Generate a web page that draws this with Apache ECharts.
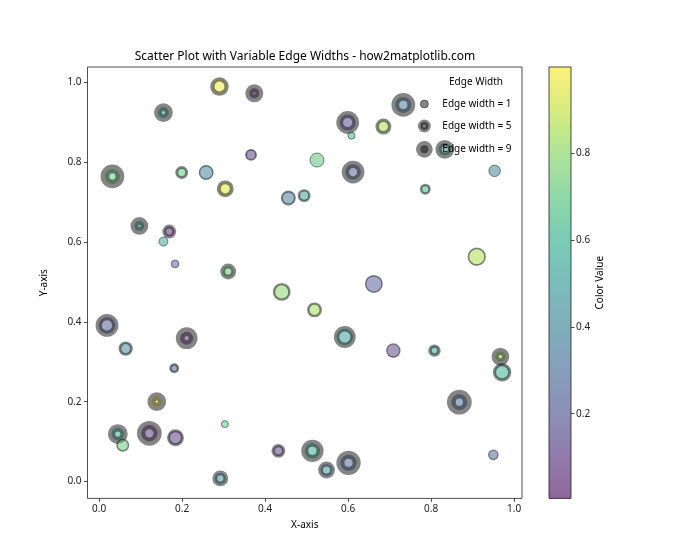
<!DOCTYPE html>
<html>
<head>
<meta charset="utf-8">
<script src="https://cdn.jsdelivr.net/npm/echarts@6/dist/echarts.min.js"></script>
<style>
  html, body { margin: 0; padding: 0; background: #fff; }
  #chart { width: 700px; height: 560px; }
</style>
</head>
<body>
<div id="chart"></div>
<script>
// point data
var xs = [0.290, 0.374, 0.155, 0.366, 0.032, 0.199, 0.258, 0.304, 0.456, 0.494,
  0.097, 0.169, 0.155, 0.183, 0.311, 0.733, 0.599, 0.608, 0.685, 0.833,
  0.525, 0.612, 0.953, 0.786, 0.910, 0.440, 0.019, 0.064, 0.211, 0.181,
  0.139, 0.045, 0.057, 0.121, 0.184, 0.303, 0.292, 0.432, 0.662, 0.519,
  0.592, 0.709, 0.808, 0.967, 0.971, 0.868, 0.514, 0.548, 0.601, 0.950]
var ys = [0.989, 0.972, 0.924, 0.818, 0.764, 0.774, 0.774, 0.733, 0.710, 0.716,
  0.640, 0.626, 0.601, 0.545, 0.526, 0.943, 0.899, 0.866, 0.889, 0.832,
  0.805, 0.775, 0.778, 0.732, 0.563, 0.475, 0.391, 0.333, 0.359, 0.284,
  0.200, 0.119, 0.091, 0.121, 0.110, 0.144, 0.008, 0.077, 0.495, 0.430,
  0.362, 0.328, 0.328, 0.313, 0.274, 0.199, 0.077, 0.029, 0.047, 0.067]
var colorVals = [0.97, 0.05, 0.55, 0.10, 0.72, 0.72, 0.38, 0.95, 0.36, 0.52,
  0.52, 0.05, 0.57, 0.25, 0.72, 0.35, 0.17, 0.62, 0.86, 0.45,
  0.70, 0.25, 0.38, 0.65, 0.86, 0.80, 0.22, 0.40, 0.08, 0.25,
  0.98, 0.58, 0.72, 0.10, 0.10, 0.70, 0.45, 0.12, 0.23, 0.84,
  0.50, 0.13, 0.55, 0.82, 0.58, 0.28, 0.58, 0.45, 0.25, 0.25]
// marker area (pt^2) and edge width (pt)
var sizes = [216, 106, 128, 106, 238, 106, 193, 179, 179, 117,
  106, 106, 86, 63, 128, 271, 271, 52, 165, 165,
  207, 254, 140, 76, 295, 254, 288, 145, 179, 60,
  117, 165, 140, 288, 207, 52, 128, 117, 288, 165,
  288, 187, 86, 117, 248, 271, 248, 152, 281, 92]
var edgeWidths = [4.4, 8.2, 8, 2, 9, 3, 1.5, 4, 2, 2.5,
  8, 4, 1, 1, 5, 8, 7, 1, 3.5, 6.5,
  1, 7.5, 1, 2.5, 1.7, 2.5, 6.5, 2.7, 9, 2.5,
  8.5, 7.5, 1.5, 8.5, 3, 1, 5, 3.5, 1.5, 2.5,
  5.5, 1.3, 3.5, 7.5, 3.3, 9, 7.3, 5, 8.3, 1.3]
var legendWidths = [1, 5, 9]
var xTicks = [0, 0.2, 0.4, 0.6, 0.8, 1.0]
var yTicks = [0, 0.2, 0.4, 0.6, 0.8, 1.0]
var cbarTicks = [0.2, 0.4, 0.6, 0.8]

var PT = 0.972 // px per point
var viridis = ['#440154', '#482475', '#414487', '#355f8d', '#2a788e', '#21918c',
  '#22a884', '#44bf70', '#7ad151', '#bddf26', '#fde725']

function withAlpha(hex, a) {
  var r = parseInt(hex.slice(1, 3), 16)
  var g = parseInt(hex.slice(3, 5), 16)
  var b = parseInt(hex.slice(5, 7), 16)
  return 'rgba(' + r + ',' + g + ',' + b + ',' + a + ')'
}
var cmap = viridis.map(function (c) { return withAlpha(c, 0.6) })
var edgeColor = 'rgba(0,0,0,0.6)'
var FONT = 'Noto Sans'

var points = xs.map(function (x, i) {
  return {
    value: [x, ys[i], colorVals[i]],
    symbolSize: Math.sqrt(sizes[i]) * PT,
    itemStyle: { borderWidth: edgeWidths[i] * PT }
  }
})

var legendSeries = legendWidths.map(function (w) {
  return {
    name: 'Edge width = ' + w,
    type: 'scatter',
    data: [],
    itemStyle: { color: edgeColor, borderColor: edgeColor, borderWidth: w * PT }
  }
})

var tickStyle = { show: true, length: 3.5, lineStyle: { color: '#222', width: 0.8 } }

var chart = echarts.init(document.getElementById('chart'))
chart.setOption({
  animation: false,
  textStyle: { fontFamily: FONT },
  title: [
    {
      text: 'Scatter Plot with Variable Edge Widths - how2matplotlib.com',
      left: 305, top: 51, padding: 0, textAlign: 'center',
      textStyle: { fontSize: 12, fontWeight: 'normal', color: '#000', fontFamily: FONT }
    },
    {
      text: 'Edge Width',
      left: 476, top: 77, padding: 0, textAlign: 'center',
      textStyle: { fontSize: 10, fontWeight: 'normal', color: '#000', fontFamily: FONT }
    }
  ],
  legend: {
    orient: 'vertical',
    left: 416, top: 97, padding: 0,
    itemWidth: 16, itemHeight: 8, itemGap: 8,
    icon: 'circle',
    textStyle: { fontSize: 10, color: '#000', lineHeight: 14, fontFamily: FONT, padding: [0, 0, 0, 5] },
    data: legendWidths.map(function (w) {
      return {
        name: 'Edge width = ' + w,
        itemStyle: { color: edgeColor, borderColor: edgeColor, borderWidth: w * PT }
      }
    })
  },
  visualMap: {
    show: false,
    type: 'continuous',
    seriesIndex: 0,
    dimension: 2,
    min: 0.005,
    max: 0.998,
    inRange: { color: cmap }
  },
  grid: [
    { left: 87.5, right: 178, top: 67, bottom: 61.6, show: true, borderColor: '#222', borderWidth: 0.8 },
    {
      left: 549, width: 22, top: 67, bottom: 61.6, show: true, borderColor: '#222', borderWidth: 0.8,
      backgroundColor: {
        type: 'linear', x: 0, y: 0, x2: 0, y2: 1,
        colorStops: cmap.slice().reverse().map(function (c, i) {
          return { offset: i / (cmap.length - 1), color: c }
        })
      }
    }
  ],
  xAxis: [
    {
      type: 'value', gridIndex: 0, min: -0.028, max: 1.019,
      name: 'X-axis', nameLocation: 'middle', nameGap: 22,
      nameTextStyle: { fontSize: 10, color: '#000' },
      axisLine: { show: false, onZero: false },
      axisTick: Object.assign({ customValues: xTicks }, tickStyle),
      axisLabel: {
        fontSize: 10, color: '#222', margin: 6, customValues: xTicks,
        formatter: function (v) { return v.toFixed(1) }
      },
      splitLine: { show: false }
    },
    { type: 'value', gridIndex: 1, show: false, min: 0, max: 1 }
  ],
  yAxis: [
    {
      type: 'value', gridIndex: 0, min: -0.042, max: 1.038,
      name: 'Y-axis', nameLocation: 'middle', nameGap: 38, nameRotate: 90,
      nameTextStyle: { fontSize: 10, color: '#000' },
      axisLine: { show: false, onZero: false },
      axisTick: Object.assign({ customValues: yTicks }, tickStyle),
      axisLabel: {
        fontSize: 10, color: '#222', margin: 6, customValues: yTicks,
        formatter: function (v) { return v.toFixed(1) }
      },
      splitLine: { show: false }
    },
    {
      type: 'value', gridIndex: 1, position: 'right', min: 0.005, max: 0.998,
      name: 'Color Value', nameLocation: 'middle', nameGap: 24, nameRotate: 90,
      nameTextStyle: { fontSize: 10, color: '#000' },
      axisLine: { show: false, onZero: false },
      axisTick: Object.assign({ customValues: cbarTicks }, tickStyle),
      axisLabel: {
        fontSize: 10, color: '#222', margin: 5, customValues: cbarTicks,
        formatter: function (v) { return v.toFixed(1) }
      },
      splitLine: { show: false }
    }
  ],
  series: [
    {
      name: 'points',
      type: 'scatter',
      xAxisIndex: 0, yAxisIndex: 0,
      symbol: 'circle',
      itemStyle: { borderColor: edgeColor },
      emphasis: { disabled: true },
      data: points
    }
  ].concat(legendSeries)
})
</script>
</body>
</html>
